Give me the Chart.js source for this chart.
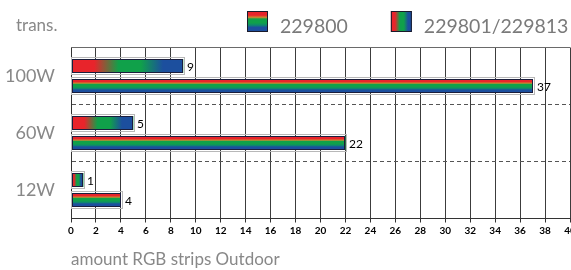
<!DOCTYPE html>
<html><head><meta charset="utf-8">
<script src="https://cdn.jsdelivr.net/npm/chart.js@4.4.0/dist/chart.umd.min.js"></script>
<style>html,body{margin:0;padding:0;background:#fff;overflow:hidden;}</style>
</head><body>
<canvas id="c" width="571" height="270"></canvas>
<script>
// ---- data ----
const categories = ['100W', '60W', '12W'];
const seriesNames = ['229801/229813', '229800'];
const values229801 = [9, 5, 1];
const values229800 = [37, 22, 4];
const xTickValues = [0, 2, 4, 6, 8, 10, 12, 14, 16, 18, 20, 22, 24, 26, 28, 30, 32, 34, 36, 38, 40];
const xAxisTitle = 'amount RGB strips Outdoor';
const yAxisTitle = 'trans.';

// ---- styles ----
const RED = '#e8242b', GREEN = '#10a14a', BLUE = '#1c4f9e';
function hGrad(ctx, x0, x1) {
  const g = ctx.createLinearGradient(x0, 0, x1, 0);
  g.addColorStop(0, RED); g.addColorStop(0.2, RED);
  g.addColorStop(0.42, GREEN); g.addColorStop(0.62, GREEN);
  g.addColorStop(0.82, BLUE); g.addColorStop(1, BLUE);
  return g;
}
function vGrad(ctx, y0, y1) {
  const g = ctx.createLinearGradient(0, y0, 0, y1);
  g.addColorStop(0, RED); g.addColorStop(0.2, RED);
  g.addColorStop(0.3, '#d0862f');
  g.addColorStop(0.38, GREEN); g.addColorStop(0.56, GREEN);
  g.addColorStop(0.67, '#0e8a6c');
  g.addColorStop(0.78, BLUE); g.addColorStop(1, BLUE);
  return g;
}

const barFill = {
  id: 'barFill',
  afterDatasetsDraw(chart) {
    const ctx = chart.ctx;
    chart.data.datasets.forEach((ds, di) => {
      const meta = chart.getDatasetMeta(di);
      meta.data.forEach((el, i) => {
        const p = el.getProps(['x', 'y', 'base', 'height'], true);
        const left = Math.round(Math.min(p.base, p.x));
        const right = Math.round(Math.max(p.base, p.x));
        const top = Math.round(p.y - p.height / 2);
        const bot = Math.round(p.y + p.height / 2);
        ctx.save();
        ctx.fillStyle = di === 0 ? hGrad(ctx, left, right) : vGrad(ctx, top, bot);
        ctx.fillRect(left, top, right - left, bot - top);
        ctx.lineWidth = 1;
        ctx.strokeStyle = '#b8b8b8';
        ctx.strokeRect(left - 0.5, top - 1.5, right - left + 2, bot - top + 3);
        ctx.strokeStyle = '#1a1d3c';
        ctx.strokeRect(left + 0.5, top + 0.5, right - left - 1, bot - top - 1);
        // value label
        ctx.fillStyle = '#000';
        ctx.font = '12px Lato';
        ctx.textBaseline = 'middle';
        ctx.textAlign = 'left';
        ctx.fillText(String(ds.data[i]), right + 4, p.y + 1);
        ctx.restore();
      });
    });
  }
};

const decor = {
  id: 'decor',
  beforeDatasetsDraw(chart) {
    const ctx = chart.ctx, a = chart.chartArea;
    ctx.save();
    ctx.strokeStyle = '#6a6a6a';
    ctx.lineWidth = 1;
    ctx.beginPath();
    ctx.moveTo(a.left, a.top);
    ctx.lineTo(a.right, a.top);
    ctx.stroke();
    ctx.restore();
  },
  afterDraw(chart) {
    const ctx = chart.ctx;
    ctx.save();
    ctx.textBaseline = 'alphabetic';
    ctx.textAlign = 'left';
    ctx.fillStyle = '#888';
    ctx.font = '17px Lato';
    ctx.fillText(yAxisTitle, 16, 31);
    const items = [{ name: seriesNames[1], kind: 'v' }, { name: seriesNames[0], kind: 'h' }];
    let x = 247;
    const y = 11, s = 21;
    ctx.font = '19.5px Lato';
    items.forEach(it => {
      ctx.fillStyle = it.kind === 'h' ? hGrad(ctx, x, x + s) : vGrad(ctx, y, y + s);
      ctx.fillRect(x, y, s, s);
      ctx.strokeStyle = '#1a1a2a';
      ctx.lineWidth = 1;
      ctx.strokeRect(x + 0.5, y + 0.5, s - 1, s - 1);
      ctx.fillStyle = '#7a7a7a';
      ctx.fillText(it.name, x + s + 12, 33);
      x += s + 12 + ctx.measureText(it.name).width + 43;
    });
    ctx.restore();
  }
};

new Chart(document.getElementById('c'), {
  type: 'bar',
  data: {
    labels: categories,
    datasets: [
      { label: seriesNames[0], data: values229801, backgroundColor: GREEN, borderWidth: 0 },
      { label: seriesNames[1], data: values229800, backgroundColor: GREEN, borderWidth: 0 }
    ]
  },
  options: {
    indexAxis: 'y',
    responsive: false,
    animation: false,
    devicePixelRatio: 1,
    categoryPercentage: 0.7,
    barPercentage: 0.7,
    layout: { padding: { top: 47.5, right: 1, left: 0, bottom: 0 } },
    plugins: { legend: { display: false }, tooltip: { enabled: false }, title: { display: false } },
    scales: {
      x: {
        type: 'linear', position: 'bottom', min: 0, max: 40,
        afterBuildTicks: s => { s.ticks = xTickValues.map(v => ({ value: v })); },
        afterFit: s => { s.paddingLeft = 0; s.paddingRight = 0; s.height = 51.5; },
        grid: { color: '#3c3c3c', lineWidth: 1, tickLength: 4, tickColor: '#333' },
        border: { display: true, color: '#333', width: 1 },
        ticks: { color: '#000', font: { family: 'Lato', size: 10, weight: 'bold' }, padding: 2, maxRotation: 0, autoSkip: false },
        title: { display: true, text: xAxisTitle, align: 'start', color: '#888', font: { family: 'Lato', size: 17 }, padding: { top: 0, bottom: 0 } }
      },
      y: {
        type: 'category', offset: true,
        afterFit: s => { s.width = 71; s.paddingTop = 0; s.paddingBottom = 0; },
        grid: {
          offset: true, drawTicks: false, lineWidth: 1,
          color: c => (c.type === 'tick' && c.index > 0) ? '#555' : 'rgba(0,0,0,0)'
        },
        border: { display: true, color: '#333', width: 1, dash: [4, 3] },
        ticks: { color: '#888', font: { family: 'Lato', size: 18 }, padding: 16 }
      }
    }
  },
  plugins: [barFill, decor]
});
</script>
</body></html>
